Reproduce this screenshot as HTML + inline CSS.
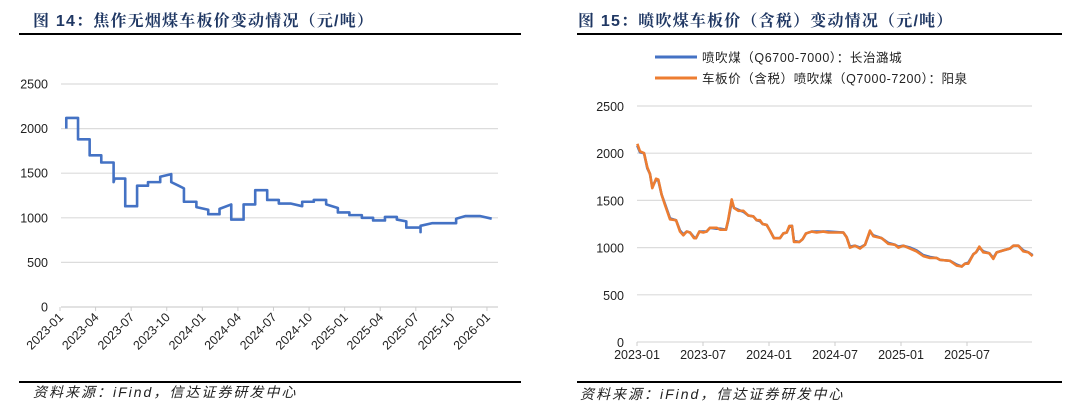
<!DOCTYPE html>
<html><head><meta charset="utf-8">
<style>
html,body{margin:0;padding:0;background:#fff;}
svg{display:block;font-family:"Liberation Sans","Noto Sans CJK SC",sans-serif;}
.t{font-family:"Liberation Sans","Noto Serif CJK SC","Noto Sans CJK SC",sans-serif;font-size:16px;font-weight:bold;fill:#1f3763;letter-spacing:1.2px;}
.ax{font-size:12.5px;fill:#222;}
.src{font-size:14px;font-style:italic;fill:#222;letter-spacing:2px;}
</style></head>
<body>
<svg id="s" width="1080" height="415" viewBox="0 0 1080 415" xmlns="http://www.w3.org/2000/svg">
<text class="t" x="33" y="26">图 14：焦作无烟煤车板价变动情况（元/吨）</text>
<line x1="19" y1="34" x2="521" y2="34" stroke="#000" stroke-width="2"/>
<text class="t" x="578" y="26">图 15：喷吹煤车板价（含税）变动情况（元/吨）</text>
<line x1="577" y1="34" x2="1062" y2="34" stroke="#000" stroke-width="2"/>
<line x1="19" y1="382" x2="521" y2="382" stroke="#000" stroke-width="2"/>
<line x1="577" y1="382" x2="1062" y2="382" stroke="#000" stroke-width="2"/>
<text class="src" x="33" y="397">资料来源：iFind，信达证券研发中心</text>
<text class="src" x="580" y="399">资料来源：iFind，信达证券研发中心</text>
<g id="L"></g>
<g id="R"></g>
</svg>
<script>
// Left chart data (months since 2023-01, value)
const leftMonths=[0.53,0.53,1.52,1.52,2.5,2.5,3.48,3.48,4.52,4.52,4.6,5.5,5.5,6.5,6.5,7.42,7.42,8.45,8.45,9.38,9.38,10.0,10.45,10.45,11.5,11.5,12.5,12.5,13.45,13.45,14.44,14.44,15.48,15.48,16.46,16.46,17.47,17.47,18.45,18.45,19.44,20.42,20.42,21.4,21.4,22.44,22.44,23.43,23.43,24.4,24.4,25.45,25.45,26.4,26.4,27.4,27.4,28.4,28.4,29.2,29.2,30.4,30.4,30.4,31.4,33.4,33.4,34.2,35.4,36.4];
const leftValues=[2000,2120,2120,1880,1880,1700,1700,1620,1620,1400,1440,1440,1130,1130,1360,1360,1400,1400,1460,1490,1400,1360,1330,1180,1180,1120,1090,1040,1040,1100,1150,980,980,1150,1150,1310,1310,1200,1200,1160,1160,1130,1180,1180,1200,1200,1150,1110,1060,1060,1030,1030,1000,1000,970,970,1010,1010,980,960,890,890,840,910,940,940,990,1020,1020,990];
const leftYTicks=[0,500,1000,1500,2000,2500];
const leftXLabels=["2023-01","2023-04","2023-07","2023-10","2024-01","2024-04","2024-07","2024-10","2025-01","2025-04","2025-07","2025-10","2026-01"];
// Right chart data
const rightMonths=[0.03,0.27,0.64,0.94,1.18,1.39,1.73,1.94,2.24,2.55,3.0,3.55,3.91,4.21,4.52,4.82,5.18,5.36,5.67,6.03,6.33,6.64,7.24,7.55,8.09,8.3,8.61,8.82,9.21,9.67,10.12,10.58,10.88,11.18,11.42,11.79,12.09,12.45,13.0,13.3,13.61,13.85,14.09,14.27,14.76,15.06,15.36,15.88,16.33,16.94,17.39,18.76,19.06,19.36,19.82,20.27,20.73,21.18,21.48,22.24,22.85,23.45,23.76,24.21,24.82,25.42,26.03,26.64,27.24,27.55,28.45,29.06,29.52,29.82,30.12,30.58,30.82,31.12,31.48,32.03,32.39,32.7,33.3,33.91,34.21,34.67,35.12,35.58,35.97];
const orangeValues=[2100,2020,2000,1850,1780,1630,1730,1720,1560,1450,1300,1290,1170,1130,1170,1160,1100,1100,1170,1160,1170,1210,1210,1190,1190,1300,1510,1420,1390,1390,1340,1330,1290,1290,1250,1240,1180,1100,1100,1150,1160,1230,1230,1060,1060,1090,1150,1170,1160,1170,1160,1160,1110,1000,1020,990,1030,1180,1120,1100,1040,1030,1000,1020,990,960,910,890,890,870,860,810,800,830,830,930,950,1010,950,940,880,950,970,990,1020,1020,960,950,910];
const blueValues=[2080,2010,2000,1840,1780,1640,1720,1710,1560,1460,1310,1290,1180,1140,1170,1160,1110,1100,1170,1170,1170,1210,1200,1200,1190,1290,1490,1420,1400,1380,1340,1330,1290,1280,1250,1240,1180,1100,1100,1150,1160,1220,1230,1070,1060,1090,1150,1170,1170,1170,1170,1160,1110,1010,1020,1000,1030,1170,1130,1100,1050,1030,1010,1020,1000,970,920,900,890,870,860,820,800,830,840,930,950,1000,960,940,890,950,970,990,1020,1020,970,950,920];
const rightYTicks=[0,500,1000,1500,2000,2500];
const rightXLabels=["2023-01","2023-07","2024-01","2024-07","2025-01","2025-07"];

const NS="http://www.w3.org/2000/svg";
function mk(p,tag,a){const e=document.createElementNS(NS,tag);for(const k in a)e.setAttribute(k,a[k]);p.appendChild(e);return e;}

// Left
const L=document.getElementById('L');
const lx=m=>60+m*11.86, ly=v=>307-v*0.0892;
leftYTicks.forEach(v=>{
  const g=mk(L,'line',{x1:61,x2:498,y1:ly(v),y2:ly(v),stroke:v===0?'#d0d0d0':'#dcdcdc','stroke-width':1.2});
  
  
  const t=mk(L,'text',{x:48,y:ly(v)+4.5,'text-anchor':'end',class:'ax'});t.textContent=v;
  
  
});
leftXLabels.forEach((s,i)=>{
  const x=lx(i*3);
  const tk=mk(L,'line',{x1:x,x2:x,y1:307,y2:311,stroke:'#ccc'});
  
  
  const t=mk(L,'text',{x:x+4,y:318,'text-anchor':'end',class:'ax','font-size':'13',transform:`rotate(-45 ${x+4} 318)`});t.textContent=s;
  
  
});
const lp=mk(L,'polyline',{points:leftMonths.map((m,i)=>lx(m)+','+ly(leftValues[i])).join(' '),fill:'none',stroke:'#4472c4','stroke-width':2.6,'stroke-linejoin':'round'});



// Right
const R=document.getElementById('R');
const rx=m=>637+m*11, ry=v=>342-v*0.0944;
rightYTicks.forEach(v=>{
  const g=mk(R,'line',{x1:637,x2:1032,y1:ry(v),y2:ry(v),stroke:'#dcdcdc','stroke-width':1.2});
  
  
  const t=mk(R,'text',{x:624,y:ry(v)+5,'text-anchor':'end',class:'ax'});t.textContent=v;
  
  
});
rightXLabels.forEach((s,i)=>{
  const x=rx(i*6);
  const tk=mk(R,'line',{x1:x,x2:x,y1:342,y2:346,stroke:'#ccc'});
  
  
  const t=mk(R,'text',{x:x,y:359,'text-anchor':'middle',class:'ax'});t.textContent=s;
  
  
});
const bp=mk(R,'polyline',{points:rightMonths.map((m,i)=>rx(m)+','+ry(blueValues[i])).join(' '),fill:'none',stroke:'#4472c4','stroke-width':2.6,'stroke-linejoin':'round'});


const op=mk(R,'polyline',{points:rightMonths.map((m,i)=>rx(m)+','+ry(orangeValues[i])).join(' '),fill:'none',stroke:'#ed7d31','stroke-width':2.6,'stroke-linejoin':'round'});


// legend
[['#4472c4','喷吹煤（Q6700-7000）：长治潞城',57],['#ed7d31','车板价（含税）喷吹煤（Q7000-7200）：阳泉',78]].forEach(d=>{
  const l=mk(R,'line',{x1:655,x2:697,y1:d[2],y2:d[2],stroke:d[0],'stroke-width':3});
  
  
  const t=mk(R,'text',{x:702,y:d[2]+5,class:'ax','font-size':'13.5','letter-spacing':'0.6'});t.textContent=d[1];
  
  
});
</script>
</body></html>
